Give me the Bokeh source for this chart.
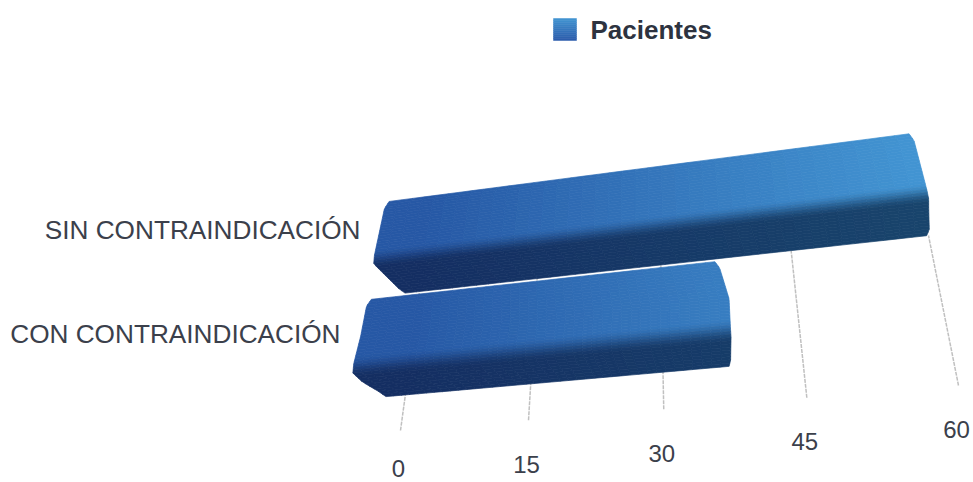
import numpy as np
from bokeh.plotting import figure
from bokeh.models import ColumnDataSource
from bokeh.core.properties import value
from bokeh.embed import file_html
from bokeh.resources import INLINE

categories = ["SIN CONTRAINDICACIÓN", "CON CONTRAINDICACIÓN"]
pacientes = [60, 37]
tick_values = [0, 15, 30, 45, 60]
series_name = "Pacientes"
axis_max = 60

# perspective of the value plane (value / axis_max, depth) -> screen
G, H = -0.10692, 0.08996
A, B, C = 455.57, 56.69, 400.0
D, E, F = -86.16, -112.82, 430.0


def project(v, s):
    u = np.asarray(v, dtype=float) / axis_max
    s = np.asarray(s, dtype=float)
    w = G * u + H * s + 1
    return (A * u + B * s + C) / w, (D * u + E * s + F) / w


# bar cross-section per category: depth, left offset, right offset (value units)
profiles = {
    "SIN CONTRAINDICACIÓN": dict(
        s=[1.80, 1.74, 1.34, 1.27, 1.20, 1.04, 1.0],
        left=[-6.1, -6.6, -6.9, -6.8, -5.6, -2.8, -1.9],
        right=[0.1, 0.5, 0.8, 0.8, 0.6, 0.2, -0.2]),
    "CON CONTRAINDICACIÓN": dict(
        s=[0.98, 0.93, 0.70, 0.50, 0.43, 0.36, 0.28, 0.24],
        left=[-6.3, -6.8, -6.9, -7.2, -7.1, -5.7, -3.4, -2.4],
        right=[-0.7, -0.2, 0.65, 0.6, 0.6, 0.5, 0.4, 0.2]),
}
mids = {"SIN CONTRAINDICACIÓN": 1.30, "CON CONTRAINDICACIÓN": 0.465}
label_pos = {"SIN CONTRAINDICACIÓN": (360, 229), "CON CONTRAINDICACIÓN": (340, 333)}

TOP_L, TOP_R = np.array([38, 88, 165.]), np.array([66, 148, 210.])
DARK_L, DARK_R = np.array([20, 46, 98.]), np.array([24, 68, 108.])


def hexc(c):
    return "#%02x%02x%02x" % tuple(int(round(x)) for x in np.clip(c, 0, 255))


def shade(v, s, mid):
    t = np.clip(v / axis_max, 0, 1)
    top = TOP_L + (TOP_R - TOP_L) * t
    dark = DARK_L + (DARK_R - DARK_L) * t
    k = np.clip((mid + 0.09 - s) / 0.16, 0, 1)
    k = k * k * (3 - 2 * k)
    return top + (dark - top) * k


p = figure(width=973, height=482, x_range=(0, 973), y_range=(482, 0),
           output_backend="svg", toolbar_location=None, min_border=0,
           outline_line_color=None, background_fill_color="white",
           border_fill_color="white")
p.xaxis.visible = False
p.yaxis.visible = False
p.grid.visible = False

# value grid lines
for t in tick_values:
    xs, ys = project([t, t], [0.0, 1.0])
    p.line(xs, ys, line_color="#c0c0c0", line_width=1.5, line_dash="4 1")

# bars
for cat, val in zip(categories, pacientes):
    prof = profiles[cat]
    mid = mids[cat]
    ss = np.array(prof["s"])
    rows = np.linspace(ss[0], ss[-1], 36)
    order = np.argsort(ss)
    lefts = np.interp(rows, ss[order], np.array(prof["left"])[order])
    rights = np.interp(rows, ss[order], val + np.array(prof["right"])[order])
    fr = np.linspace(0, 1, 41)
    qx, qy, qc = [], [], []
    for i in range(len(rows) - 1):
        for j in range(len(fr) - 1):
            v00 = lefts[i] + (rights[i] - lefts[i]) * fr[j]
            v01 = lefts[i] + (rights[i] - lefts[i]) * fr[j + 1]
            v10 = lefts[i + 1] + (rights[i + 1] - lefts[i + 1]) * fr[j]
            v11 = lefts[i + 1] + (rights[i + 1] - lefts[i + 1]) * fr[j + 1]
            x, y = project([v00, v01, v11, v10], [rows[i], rows[i], rows[i + 1], rows[i + 1]])
            qx.append(list(x))
            qy.append(list(y))
            qc.append(hexc(shade((v00 + v11) / 2, (rows[i] + rows[i + 1]) / 2, mid)))
    p.patches("x", "y", source=ColumnDataSource(dict(x=qx, y=qy, c=qc)),
              fill_color="c", line_color="c", line_width=0.7)

# category labels
for cat in categories:
    lx, ly = label_pos[cat]
    p.text([lx], [ly], text=[cat], text_align="right", text_baseline="middle",
           text_font=value("Liberation Sans"), text_font_size="26.2px", text_color="#3b404b")

# value labels
for t in tick_values:
    tx, ty = project(t, 0.0)
    p.text([float(tx) - 2], [min(float(ty) + 44, 468)], text=[str(t)], text_align="center", text_baseline="middle",
           text_font=value("Liberation Sans"), text_font_size="24px", text_color="#3b404b")

# legend
steps = np.linspace(18, 40, 12)
for a, b in zip(steps[:-1], steps[1:]):
    k = (a - 18) / 22
    col = np.array([64, 146, 208.]) + (np.array([42, 88, 168.]) - np.array([64, 146, 208.])) * k
    p.quad(left=553, right=576, top=a, bottom=b, fill_color=hexc(col), line_color=hexc(col), line_width=0.5)
p.text([590], [29], text=[series_name], text_align="left", text_baseline="middle",
       text_font=value("Liberation Sans"), text_font_style="bold", text_font_size="26px", text_color="#2d3340")

open("out.html", "w").write(file_html(p, INLINE))
